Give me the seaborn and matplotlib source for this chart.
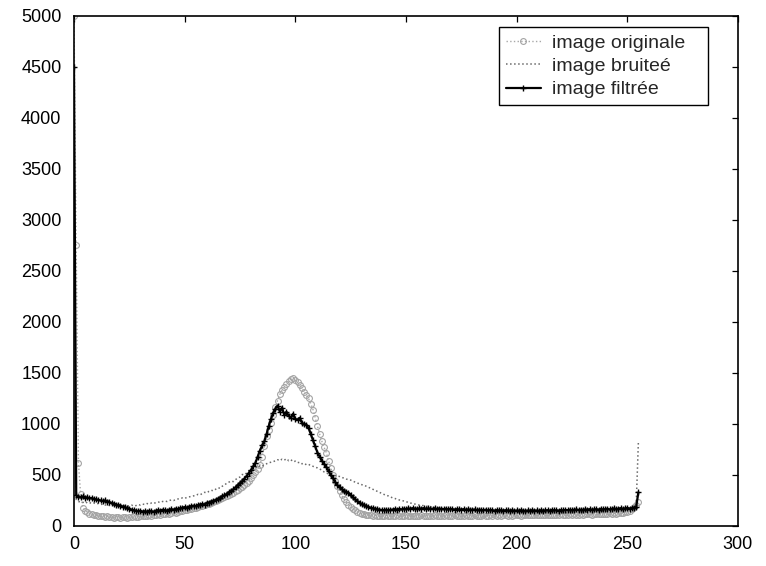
import matplotlib
matplotlib.use("Agg")
import matplotlib.pyplot as plt
import pandas as pd
import seaborn as sns

# Grey-level histograms (counts per grey level 0..255)
gray_levels = list(range(256))

hist_original = [
    5000, 2750, 620, 310, 180, 150, 140, 120, 115, 110, 105, 100, 95, 100, 90, 95,
    85, 90, 80, 85, 90, 80, 85, 90, 80, 85, 90, 95, 85, 90, 100, 95,
    100, 95, 105, 100, 110, 105, 115, 110, 120, 115, 125, 120, 130, 135, 130, 140,
    145, 150, 160, 155, 165, 170, 175, 180, 185, 195, 200, 205, 215, 220, 230, 240,
    245, 255, 260, 270, 280, 290, 300, 315, 325, 340, 355, 370, 385, 400, 425, 445,
    470, 500, 530, 560, 600, 680, 780, 880, 940, 1010, 1090, 1170, 1230, 1290, 1330, 1360,
    1390, 1420, 1440, 1450, 1430, 1410, 1380, 1350, 1310, 1280, 1250, 1200, 1140, 1060, 980, 900,
    830, 770, 720, 640, 570, 500, 440, 390, 340, 300, 260, 235, 210, 190, 170, 155,
    140, 130, 120, 115, 110, 108, 105, 100, 105, 100, 98, 102, 100, 105, 100, 98,
    102, 100, 105, 100, 98, 100, 104, 100, 98, 102, 100, 96, 100, 104, 98, 100,
    102, 98, 100, 104, 100, 98, 102, 100, 105, 100, 98, 102, 104, 100, 98, 102,
    100, 104, 98, 102, 100, 105, 100, 102, 98, 104, 100, 102, 105, 100, 104, 102,
    105, 100, 104, 108, 102, 105, 100, 106, 104, 108, 102, 106, 104, 108, 105, 110,
    106, 108, 104, 110, 106, 108, 112, 106, 110, 108, 112, 108, 114, 110, 112, 108,
    114, 110, 116, 112, 110, 116, 112, 118, 114, 116, 112, 118, 115, 120, 116, 118,
    122, 118, 124, 120, 126, 122, 128, 125, 130, 135, 140, 150, 165, 185, 210, 240,
]

hist_bruitee = [
    4200, 260, 240, 235, 230, 240, 225, 230, 220, 225, 215, 220, 210, 215, 205, 210,
    200, 210, 205, 195, 200, 205, 195, 200, 190, 200, 205, 195, 200, 210, 205, 215,
    210, 220, 215, 225, 220, 230, 235, 230, 240, 245, 240, 250, 255, 250, 260, 265,
    270, 275, 270, 280, 285, 290, 295, 300, 310, 305, 320, 330, 325, 340, 350, 345,
    360, 375, 370, 390, 400, 420, 430, 440, 435, 455, 470, 480, 505, 500, 520, 540,
    550, 560, 575, 570, 590, 585, 600, 610, 620, 625, 630, 640, 650, 640, 655, 645,
    660, 640, 650, 630, 635, 620, 625, 610, 615, 600, 605, 590, 585, 575, 570, 560,
    545, 530, 520, 510, 505, 500, 495, 490, 485, 475, 470, 460, 455, 450, 440, 430,
    420, 415, 405, 400, 390, 380, 370, 360, 350, 340, 330, 320, 310, 300, 295, 285,
    275, 270, 260, 255, 250, 245, 240, 230, 225, 220, 215, 210, 205, 200, 200, 195,
    190, 190, 185, 180, 180, 175, 175, 170, 170, 165, 165, 160, 162, 158, 160, 155,
    155, 152, 150, 155, 148, 150, 146, 150, 145, 148, 144, 146, 142, 145, 140, 144,
    140, 142, 138, 140, 136, 140, 138, 135, 138, 134, 136, 132, 135, 130, 134, 130,
    132, 128, 132, 130, 128, 132, 130, 126, 130, 128, 132, 126, 130, 128, 132, 130,
    134, 130, 136, 132, 138, 134, 140, 136, 138, 142, 138, 140, 144, 140, 146, 142,
    148, 144, 150, 146, 152, 150, 156, 152, 158, 160, 165, 170, 175, 185, 200, 820,
]

hist_filtree = [
    4500, 300, 285, 280, 290, 275, 280, 270, 275, 265, 260, 255, 250, 245, 250, 240,
    235, 225, 220, 210, 205, 200, 190, 185, 175, 170, 160, 155, 150, 145, 150, 140,
    145, 140, 150, 145, 140, 150, 155, 150, 160, 155, 150, 160, 165, 160, 170, 165,
    175, 180, 185, 180, 190, 195, 200, 195, 205, 210, 215, 210, 225, 230, 240, 245,
    255, 265, 275, 290, 300, 315, 330, 345, 360, 380, 400, 420, 440, 465, 490, 520,
    550, 585, 620, 680, 740, 790, 830, 900, 980, 1050, 1110, 1150, 1180, 1120, 1160, 1090,
    1120, 1080, 1060, 1100, 1050, 1040, 1060, 1010, 1000, 990, 960, 900, 840, 780, 720, 680,
    640, 610, 580, 540, 500, 470, 430, 400, 380, 360, 345, 335, 325, 300, 280, 260,
    245, 230, 215, 205, 195, 185, 180, 175, 170, 165, 160, 158, 155, 160, 155, 158,
    160, 165, 160, 168, 162, 170, 165, 172, 168, 175, 170, 168, 172, 170, 175, 168,
    172, 170, 168, 172, 165, 170, 168, 165, 170, 162, 168, 165, 160, 165, 162, 160,
    165, 158, 162, 160, 158, 162, 155, 160, 158, 155, 160, 152, 158, 155, 150, 156,
    152, 155, 150, 155, 152, 150, 155, 148, 152, 150, 155, 150, 148, 152, 150, 155,
    150, 152, 148, 155, 150, 152, 155, 150, 158, 152, 155, 150, 156, 152, 158, 155,
    160, 155, 158, 162, 156, 160, 158, 162, 160, 165, 158, 162, 165, 160, 168, 162,
    165, 170, 162, 168, 172, 165, 170, 175, 168, 172, 178, 170, 175, 180, 185, 330,
]

series_labels = ["image originale", "image bruiteé", "image filtrée"]
x_ticks = [0, 50, 100, 150, 200, 250, 300]
y_ticks = [0, 500, 1000, 1500, 2000, 2500, 3000, 3500, 4000, 4500, 5000]

df = pd.DataFrame({
    "niveau": gray_levels,
    "originale": hist_original,
    "bruitee": hist_bruitee,
    "filtree": hist_filtree,
})

sns.set_theme(style="white", rc={
    "axes.edgecolor": "black",
    "axes.linewidth": 1.2,
    "xtick.color": "black",
    "ytick.color": "black",
})
plt.rcParams["font.family"] = ["Liberation Sans", "DejaVu Sans"]

fig = plt.figure(figsize=(7.66, 5.66), dpi=100)
ax = fig.add_axes([0.0966, 0.0707, 0.8668, 0.9011])

sns.lineplot(data=df, x="niveau", y="originale", ax=ax, label=series_labels[0],
             color="#a8a8a8", linestyle=":", linewidth=1.0,
             marker="o", markersize=4.2, markerfacecolor="none",
             markeredgecolor="#a4a4a4", markeredgewidth=0.8)
sns.lineplot(data=df, x="niveau", y="bruitee", ax=ax, label=series_labels[1],
             color="#6a6a6a", linestyle=":", linewidth=1.1)
sns.lineplot(data=df, x="niveau", y="filtree", ax=ax, label=series_labels[2],
             color="black", linestyle="-", linewidth=1.6,
             marker="+", markersize=5, markeredgecolor="black",
             markeredgewidth=1.0)

ax.set_xlim(0, 300)
ax.set_ylim(0, 5000)
ax.set_xticks(x_ticks)
ax.set_yticks(y_ticks)
ax.set_xlabel("")
ax.set_ylabel("")
for s in ax.spines.values():
    s.set_visible(True)
    s.set_color("black")
    s.set_linewidth(1.2)
ax.tick_params(axis="both", direction="in", top=True, right=True,
               length=4, width=0.9, labelsize=13, colors="black")
ax.tick_params(axis="x", pad=7)
ax.tick_params(axis="y", pad=9)

# Legend box spanning a fixed width in the upper right corner
leg = ax.legend(loc="upper left", bbox_to_anchor=(0.64, 0.978, 0.315, 0.0),
                mode="expand", borderaxespad=0, frameon=True, fancybox=False,
                shadow=False, framealpha=1, edgecolor="black", fontsize=14,
                handlelength=1.8, handletextpad=0.6, labelspacing=0.3,
                borderpad=0.35)
leg.get_frame().set_linewidth(1.0)

fig.savefig("out.png", dpi=100, facecolor="white")
